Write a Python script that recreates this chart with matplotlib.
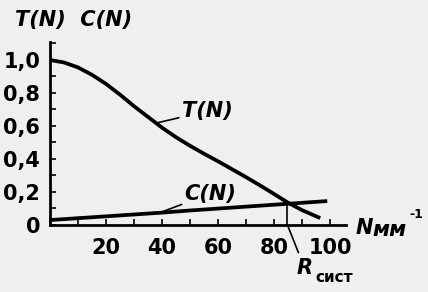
import matplotlib.pyplot as plt
from matplotlib.ticker import MultipleLocator, FixedLocator

# T(N) curve
t_n = [0, 5, 10, 15, 20, 25, 30, 35, 40, 45, 50, 55, 60, 65, 70, 75, 80, 85, 90, 96.5]
t_val = [1.0, 0.985, 0.955, 0.91, 0.855, 0.79, 0.72, 0.655, 0.59, 0.532, 0.48,
         0.432, 0.386, 0.338, 0.29, 0.24, 0.188, 0.135, 0.09, 0.042]

# C(N) line
c_n = [0, 40, 50, 99]
c_val = [0.03, 0.075, 0.088, 0.145]

r_sist = 84.8
r_level = 0.132

x_ticks = [20, 40, 60, 80, 100]
y_ticks = [0, 0.2, 0.4, 0.6, 0.8, 1.0]
y_labels = ['0', '0,2', '0,4', '0,6', '0,8', '1,0']

bg = '#efefef'
fam = ['DejaVu Sans']

fig = plt.figure(figsize=(4.28, 2.92), dpi=100, facecolor=bg)
ax = fig.add_axes([50/428, 67/292, 296/428, 183/292])
ax.set_facecolor(bg)

ax.plot(t_n, t_val, color='black', lw=2.7, solid_capstyle='butt', solid_joinstyle='round')
ax.plot(c_n, c_val, color='black', lw=2.7, solid_capstyle='butt')
ax.plot([r_sist, r_sist], [0, r_level], color='black', lw=1.2)

ax.set_xlim(0, 105.7)
ax.set_ylim(0, 1.109)
for s in ['top', 'right']:
    ax.spines[s].set_visible(False)
for s in ['left', 'bottom']:
    ax.spines[s].set_linewidth(2.0)

ax.xaxis.set_major_locator(FixedLocator(x_ticks))
ax.xaxis.set_minor_locator(MultipleLocator(10))
ax.yaxis.set_major_locator(FixedLocator(y_ticks))
ax.yaxis.set_minor_locator(MultipleLocator(0.1))
ax.set_yticklabels(y_labels)
ax.tick_params(which='both', direction='in', length=4, width=1.2, pad=7)
ax.tick_params(axis='x', pad=9)
for lab in ax.get_xticklabels() + ax.get_yticklabels():
    lab.set_family(fam)
    lab.set_fontsize(15)
    lab.set_fontweight('bold')

txt = dict(family=fam, fontsize=15, fontweight='bold', style='italic', color='black')

ax.annotate('T(N)', xy=(38.5, 0.62), xytext=(47, 0.69), ha='left', va='center',
            arrowprops=dict(arrowstyle='-', lw=1.2, color='black', shrinkA=0, shrinkB=0), **txt)
ax.annotate('C(N)', xy=(38.5, 0.07), xytext=(48, 0.19), ha='left', va='center',
            arrowprops=dict(arrowstyle='-', lw=1.2, color='black', shrinkA=0, shrinkB=0), **txt)
ax.annotate('R', xy=(r_sist, 0), xytext=(88, -0.26), ha='left', va='center',
            annotation_clip=False,
            arrowprops=dict(arrowstyle='-', lw=1.2, color='black', shrinkA=2, shrinkB=0), **txt)
fig.text(315/428, 1 - 278/292, 'сист', family=fam, fontsize=11, fontweight='bold',
         ha='left', va='center')

fig.text(15/428, 1 - 20/292, 'T(N)  C(N)', ha='left', va='center', **txt)
fig.text(356/428, 1 - 228/292, 'N', ha='left', va='center', **txt)
fig.text(372/428, 1 - 230/292, 'мм', ha='left', va='center', **txt)
fig.text(409/428, 1 - 214/292, '-1', family=fam, fontsize=9, fontweight='bold',
         ha='left', va='center')

fig.savefig('out.png', dpi=100, facecolor=bg)
